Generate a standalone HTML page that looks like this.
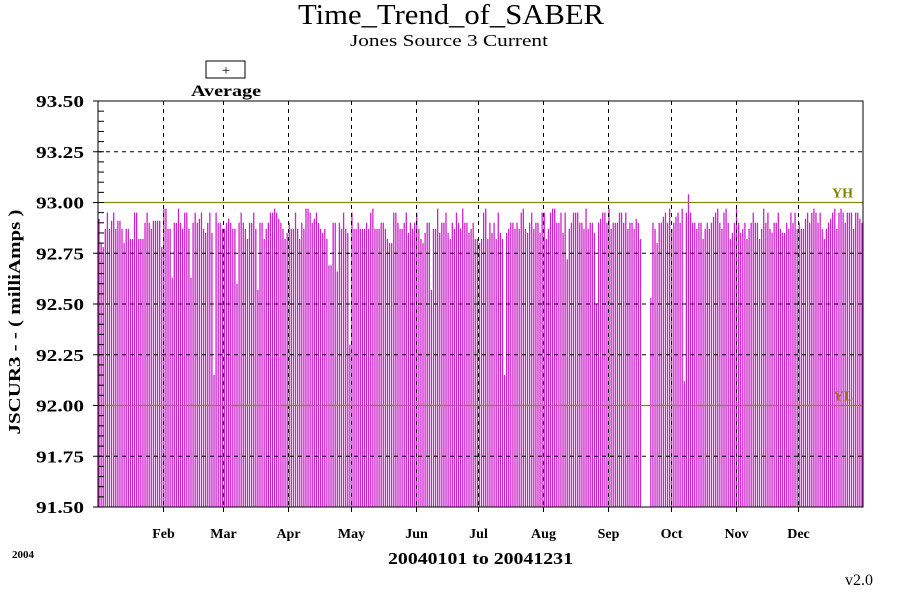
<!DOCTYPE html>
<html><head><meta charset="utf-8"><style>
body{margin:0;background:#fff;}
svg text{font-family:"Liberation Serif",serif;}
</style></head><body>
<svg id="c" width="900" height="590" viewBox="0 0 900 590" xmlns="http://www.w3.org/2000/svg">
<text x="298" y="24" font-size="29" textLength="306" lengthAdjust="spacingAndGlyphs">Time_Trend_of_SABER</text>
<text x="350" y="46" font-size="17" textLength="198" lengthAdjust="spacingAndGlyphs">Jones Source 3 Current</text>
<rect x="206" y="61" width="39" height="17" fill="#fff" stroke="#000"/>
<text x="226" y="75" font-size="15" text-anchor="middle">+</text>
<text x="191" y="96" font-size="16" font-weight="bold" textLength="70" lengthAdjust="spacingAndGlyphs">Average</text>
<g id="bars"></g>
<g id="grid"></g>
<g id="axes"></g>
<text x="20" y="322" font-size="17" font-weight="bold" text-anchor="middle" textLength="225" lengthAdjust="spacingAndGlyphs" transform="rotate(-90 20 322)">JSCUR3  - - ( milliAmps )</text>
<text x="388" y="564" font-size="17" font-weight="bold" textLength="185" lengthAdjust="spacingAndGlyphs">20040101 to 20041231</text>
<text x="12" y="558" font-size="11" font-weight="bold">2004</text>
<text x="845" y="585" font-size="16">v2.0</text>
</svg>
<script>
const monthLabels=["Feb","Mar","Apr","May","Jun","Jul","Aug","Sep","Oct","Nov","Dec"];
const monthStarts=[0,31,60,91,121,152,182,213,244,274,305,335];
const yTicks=[91.5,91.75,92.0,92.25,92.5,92.75,93.0,93.25,93.5];
const yTickLabels=["91.50","91.75","92.00","92.25","92.50","92.75","93.00","93.25","93.50"];
const limitHigh=93.0, limitLow=92.0;
const jan=[92.92,92.80,92.78,92.87,92.95,92.87,92.91,92.95,92.87,92.91,92.91,92.87,92.80,92.87,92.87,92.82,92.82,92.95,92.95,92.82,92.82,92.82,92.90,92.95,92.90,92.87,92.91,92.91,92.91,92.91,92.78];
const feb=[92.97,92.97,92.87,92.87,92.63,92.90,92.90,92.97,92.90,92.87,92.95,92.95,92.87,92.63,92.90,92.95,92.90,92.92,92.95,92.87,92.85,92.90,92.95,92.85,92.15,92.95,92.90,92.90,92.87];
const mar=[92.87,92.90,92.92,92.90,92.87,92.87,92.60,92.90,92.95,92.90,92.87,92.82,92.90,92.90,92.95,92.87,92.57,92.90,92.90,92.82,92.87,92.90,92.95,92.95,92.97,92.95,92.92,92.90,92.87,92.82,92.85];
const apr=[92.90,92.87,92.87,92.95,92.87,92.82,92.90,92.87,92.97,92.97,92.95,92.90,92.92,92.95,92.90,92.87,92.85,92.87,92.82,92.69,92.69,92.90,92.90,92.66,92.90,92.87,92.95,92.87,92.85,92.30];
const may=[92.95,92.87,92.87,92.90,92.87,92.87,92.87,92.90,92.87,92.95,92.97,92.87,92.87,92.87,92.90,92.90,92.87,92.82,92.80,92.80,92.95,92.95,92.90,92.87,92.87,92.90,92.95,92.85,92.90,92.87,92.90];
const jun=[92.95,92.87,92.82,92.80,92.85,92.90,92.90,92.57,92.87,92.87,92.97,92.85,92.90,92.90,92.95,92.85,92.82,92.90,92.87,92.95,92.90,92.87,92.97,92.90,92.90,92.85,92.87,92.90,92.82,92.82];
const jul=[92.80,92.82,92.95,92.97,92.82,92.90,92.85,92.90,92.82,92.95,92.85,92.82,92.15,92.85,92.87,92.90,92.90,92.87,92.90,92.87,92.95,92.97,92.87,92.85,92.90,92.95,92.87,92.90,92.90,92.85,92.95];
const aug=[92.95,92.82,92.87,92.95,92.97,92.97,92.90,92.90,92.95,92.85,92.95,92.72,92.87,92.90,92.95,92.95,92.95,92.90,92.90,92.87,92.97,92.87,92.90,92.90,92.85,92.50,92.90,92.92,92.95,92.95,92.90];
const sep=[92.97,92.87,92.90,92.90,92.90,92.95,92.95,92.90,92.95,92.87,92.90,92.90,92.87,92.92,92.90,92.82,null,null,null,null,92.53,92.90,92.87,92.80,92.90,92.90,92.93,92.95,92.90,92.97];
const oct=[92.87,92.90,92.93,92.95,92.90,92.97,92.12,92.95,93.04,92.95,92.90,92.90,92.87,92.90,92.90,92.82,92.87,92.90,92.87,92.90,92.93,92.95,92.97,92.90,92.87,92.95,92.97,92.90,92.82,92.85,92.90];
const nov=[92.97,92.90,92.85,92.87,92.90,92.82,92.87,92.90,92.95,92.90,92.90,92.82,92.87,92.97,92.90,92.95,92.87,92.85,92.90,92.90,92.95,92.87,92.85,92.85,92.90,92.87,92.95,92.90,92.95,92.87];
const dec=[92.90,92.87,92.87,92.92,92.95,92.90,92.95,92.97,92.95,92.90,92.95,92.87,92.82,92.87,92.90,92.92,92.95,92.97,92.87,92.95,92.97,92.95,92.90,92.95,92.95,92.95,92.87,92.95,92.95,92.92,92.90];
const months=[jan,feb,mar,apr,may,jun,jul,aug,sep,oct,nov,dec];

const NS="http://www.w3.org/2000/svg";
const L=98,R=863,T=101,B=507,yMin=91.5,yMax=93.5,nDays=366;
function xDay(d){return L+(d+0.5)*(R-L)/nDays;}
function xEdge(d){return L+d*(R-L)/nDays;}
function yVal(v){return B-(v-yMin)/(yMax-yMin)*(B-T);}
function mk(tag,attrs,parent){const e=document.createElementNS(NS,tag);for(const k in attrs)e.setAttribute(k,attrs[k]);parent.appendChild(e);return e;}
const bars=document.getElementById('bars'),grid=document.getElementById('grid'),axes=document.getElementById('axes');

months.forEach((arr,m)=>{arr.forEach((v,i)=>{
  if(v===null)return;const d=monthStarts[m]+i;if(d>=nDays)return;
  const x=xDay(d);
  const ln=mk('line',{x1:x,x2:x,y1:B,y2:yVal(v),stroke:'#cc22cc','stroke-width':1.3},bars);
  
  
});});

yTicks.forEach(v=>{
  if(v===yMin||v===yMax||v===limitHigh||v===limitLow)return;
  const g=mk('line',{x1:L,x2:R,y1:yVal(v),y2:yVal(v),stroke:'#000','stroke-dasharray':'4,4'},grid);
  
  
});
monthStarts.slice(1).forEach((d,i)=>{
  const x=Math.round(xEdge(d))+0.5;
  const g=mk('line',{x1:x,x2:x,y1:T,y2:B,stroke:'#000','stroke-dasharray':'4,4'},grid);
  
  
  const t=mk('text',{x:x,y:538,'font-size':14,'font-weight':'bold','text-anchor':'middle'},axes);
  t.textContent=monthLabels[i];
  
  
  const tk=mk('line',{x1:x,x2:x,y1:B,y2:B+5,stroke:'#000'},axes);
  
  
});
[[limitHigh,'YH','#808000'],[limitLow,'YL','#a0702a']].forEach(([v,lab,col])=>{
  const y=yVal(v);
  const l=mk('line',{x1:L,x2:R,y1:y,y2:y,stroke:'#8a8a10','stroke-width':1.2},grid);
  
  
  const t=mk('text',{x:853,y:y-5,'font-size':14,'font-weight':'bold','text-anchor':'end',fill:col},grid);
  t.textContent=lab;
  
  
});
const frame=mk('rect',{x:L,y:T,width:R-L,height:B-T,fill:'none',stroke:'#000'},axes);


yTicks.forEach((v,i)=>{
  const y=yVal(v);
  const t=mk('text',{x:36,y:y+6,'font-size':17,'font-weight':'bold',textLength:48,lengthAdjust:'spacingAndGlyphs'},axes);
  t.textContent=yTickLabels[i];
  
  
  const tk=mk('line',{x1:L-5,x2:L,y1:y,y2:y,stroke:'#000'},axes);
  
  
});
for(let v=yMin+0.05;v<yMax-0.01;v+=0.05){
  const y=yVal(v);
  const tk=mk('line',{x1:L,x2:L+6,y1:y,y2:y,stroke:'#000'},axes);
  
  
}
</script>
</body></html>
